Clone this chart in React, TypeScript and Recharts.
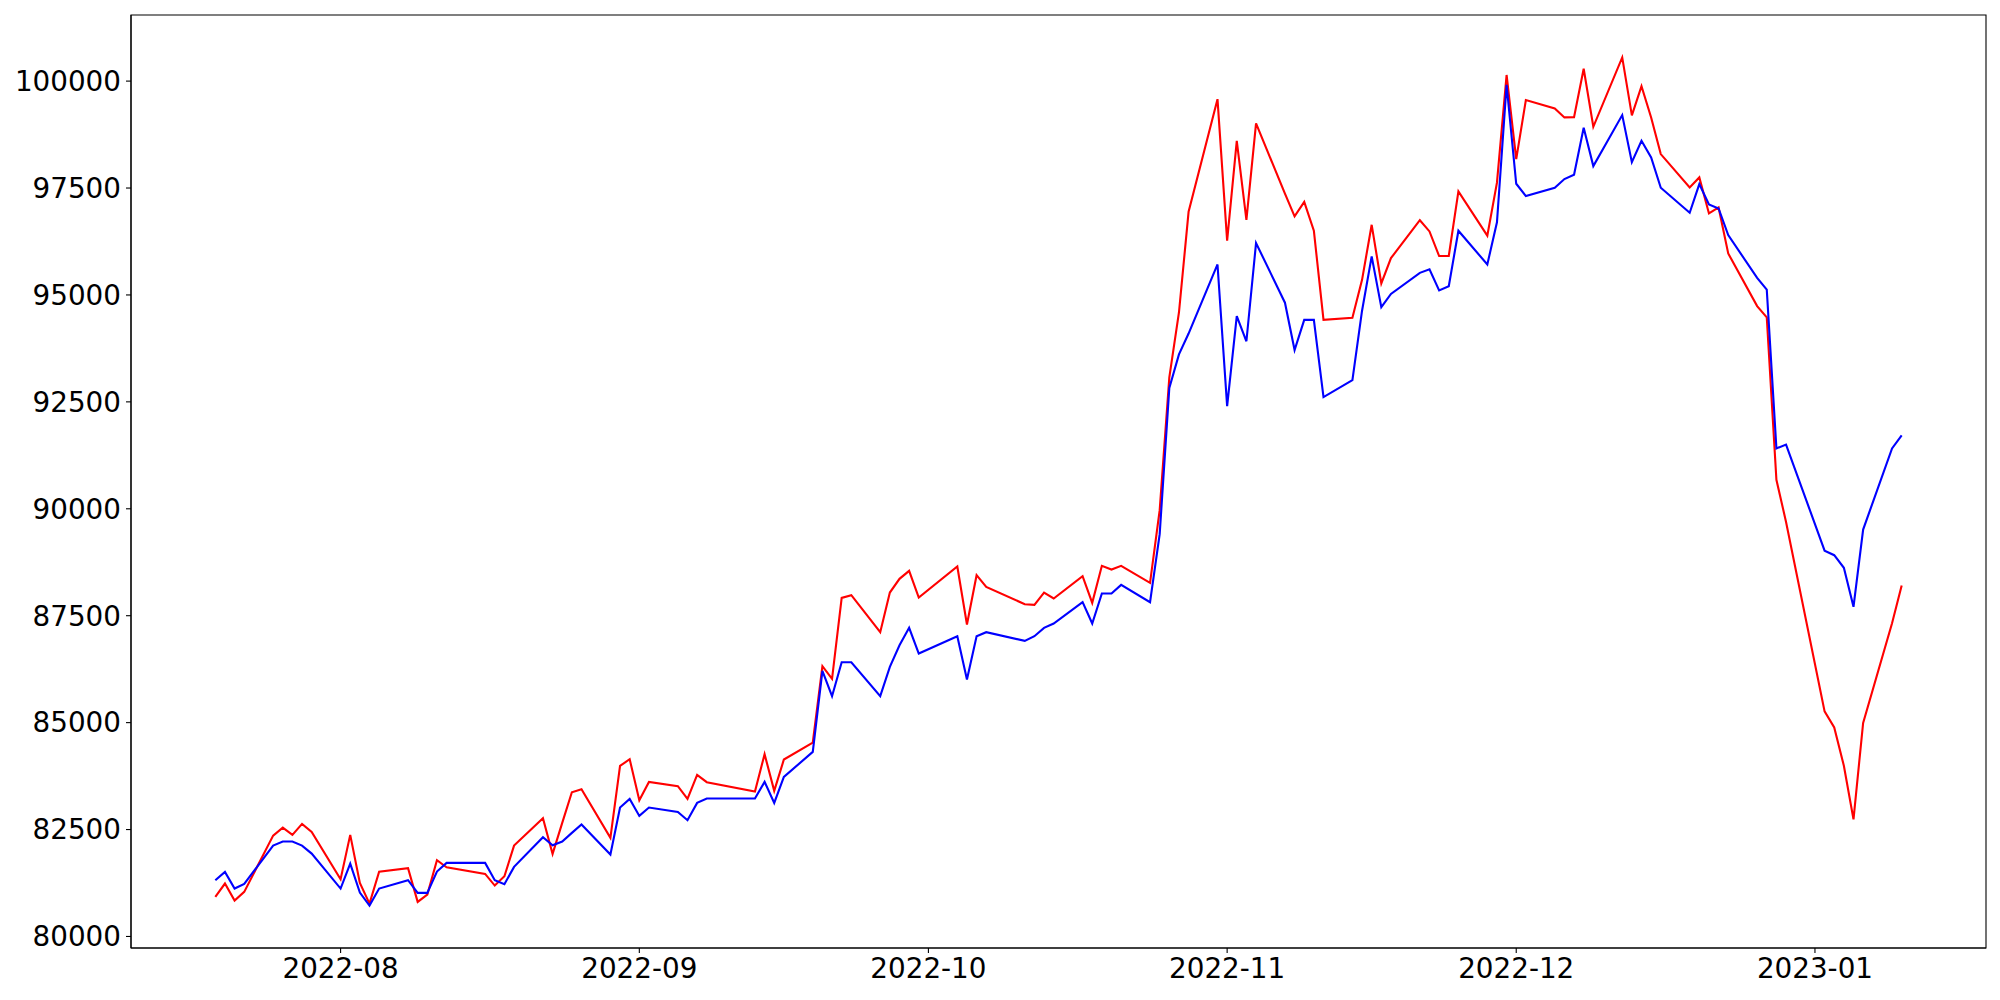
import { LineChart, Line, XAxis, YAxis, ReferenceArea } from "recharts"

// trading days, Jul 2022 - Jan 2023
const dates = [
    "2022-07-19", "2022-07-20", "2022-07-21", "2022-07-22", "2022-07-25", "2022-07-26", "2022-07-27", "2022-07-28", "2022-07-29",
    "2022-08-01", "2022-08-02", "2022-08-03", "2022-08-04", "2022-08-05", "2022-08-08", "2022-08-09", "2022-08-10", "2022-08-11", "2022-08-12",
    "2022-08-16", "2022-08-17", "2022-08-18", "2022-08-19", "2022-08-22", "2022-08-23", "2022-08-24", "2022-08-25", "2022-08-26",
    "2022-08-29", "2022-08-30", "2022-08-31",
    "2022-09-01", "2022-09-02", "2022-09-05", "2022-09-06", "2022-09-07", "2022-09-08", "2022-09-13", "2022-09-14", "2022-09-15", "2022-09-16",
    "2022-09-19", "2022-09-20", "2022-09-21", "2022-09-22", "2022-09-23", "2022-09-26", "2022-09-27", "2022-09-28", "2022-09-29", "2022-09-30",
    "2022-10-04", "2022-10-05", "2022-10-06", "2022-10-07", "2022-10-11", "2022-10-12", "2022-10-13", "2022-10-14",
    "2022-10-17", "2022-10-18", "2022-10-19", "2022-10-20", "2022-10-21", "2022-10-24", "2022-10-25", "2022-10-26", "2022-10-27", "2022-10-28",
    "2022-10-31",
    "2022-11-01", "2022-11-02", "2022-11-03", "2022-11-04", "2022-11-07", "2022-11-08", "2022-11-09", "2022-11-10", "2022-11-11",
    "2022-11-14", "2022-11-15", "2022-11-16", "2022-11-17", "2022-11-18", "2022-11-21", "2022-11-22", "2022-11-23", "2022-11-24", "2022-11-25",
    "2022-11-28", "2022-11-29", "2022-11-30",
    "2022-12-01", "2022-12-02", "2022-12-05", "2022-12-06", "2022-12-07", "2022-12-08", "2022-12-09", "2022-12-12", "2022-12-13", "2022-12-14",
    "2022-12-15", "2022-12-16", "2022-12-19", "2022-12-20", "2022-12-21", "2022-12-22", "2022-12-23", "2022-12-26", "2022-12-27", "2022-12-28",
    "2022-12-29",
    "2023-01-02", "2023-01-03", "2023-01-04", "2023-01-05", "2023-01-06", "2023-01-09", "2023-01-10",
]

const redValues = [
    80925, 81237, 80839, 81042, 82359, 82546, 82375, 82632, 82445,
    81338, 82375, 81252, 80769, 81517, 81595, 80808, 80980, 81782, 81619,
    81463, 81190, 81408, 82125, 82765, 81930, 82655, 83372, 83443,
    82305, 83988, 84144,
    83186, 83614, 83513, 83217, 83778, 83607, 83388, 84262, 83404, 84137,
    84534, 86319, 86023, 87917, 87980, 87115, 88042, 88362, 88549, 87925,
    88650, 87294, 88447, 88175, 87769, 87754, 88042, 87902,
    88424, 87800, 88666, 88580, 88666, 88268, 89967, 93072, 94590, 96944,
    99577,
    96271, 98601, 96755, 99011, 97370, 96837, 97174, 96501, 94417,
    94467, 95353, 96640, 95270, 95861, 96747, 96485, 95910, 95910, 97420,
    96386, 97625, 100143,
    98174, 99556, 99361, 99151, 99158, 100289, 98932, 100554, 99198, 99883,
    99151, 98293, 97514, 97748, 96906, 97046, 95970, 94739, 94474, 90678,
    89693,
    85263, 84888, 83992, 82739, 84995, 87322, 88208,
]

const blueValues = [
    81315, 81510, 81120, 81229, 82125, 82219, 82219, 82125, 81938,
    81120, 81705, 81027, 80722, 81120, 81315, 81019, 81019, 81518, 81720,
    81720, 81315, 81221, 81627, 82320, 82133, 82219, 82422, 82617,
    81915, 83014, 83217,
    82819, 83014, 82913, 82718, 83123, 83225, 83225, 83614, 83123, 83731,
    84316, 86210, 85618, 86413, 86413, 85618, 86304, 86810, 87216, 86616,
    87021, 86008, 87021, 87115, 86912, 87021, 87216, 87317,
    87816, 87317, 88019, 88019, 88221, 87816, 89406, 92828, 93610, 94097,
    95713,
    92399, 94507, 93917, 96214, 94819, 93712, 94417, 94417, 92613,
    93007, 94631, 95902, 94713, 95024, 95517, 95599, 95106, 95205, 96501,
    95713, 96698, 99915,
    97600, 97312, 97506, 97709, 97810, 98909, 98013, 99205, 98106, 98605,
    98215, 97506, 96921, 97592, 97116, 97023, 96399, 95400, 95124, 91412,
    91501,
    89022, 88915, 88620, 87707, 89515, 91412, 91716,
]

const monthTicks = ["2022-08-01", "2022-09-01", "2022-10-01", "2022-11-01", "2022-12-01", "2023-01-01"]
const yTicks = [80000, 82500, 85000, 87500, 90000, 92500, 95000, 97500, 100000]

const data = dates.map((d, i) => ({ t: Date.parse(d), red: redValues[i], blue: blueValues[i] }))

// matplotlib-style 5% margins
const tMin = data[0].t
const tMax = data[data.length - 1].t
const tPad = (tMax - tMin) * 0.05
const xDomain = [tMin - tPad, tMax + tPad]

const allValues = [...redValues, ...blueValues]
const vMin = Math.min(...allValues)
const vMax = Math.max(...allValues)
const vPad = (vMax - vMin) * 0.05
const yDomain = [vMin - vPad, vMax + vPad]

const font = { fontFamily: "DejaVu Sans", fontSize: 27.8, fill: "#000" }
const axisLine = { stroke: "#000", strokeWidth: 1.1 }

const fmtMonth = (t: number) => {
    const d = new Date(t)
    return `${d.getUTCFullYear()}-${String(d.getUTCMonth() + 1).padStart(2, "0")}`
}

export default function App() {
    return (
        <div style={{ position: "absolute", left: 0, top: 0, width: 2000, height: 1000, background: "#fff" }}>
            <LineChart width={2000} height={1000} data={data} margin={{ top: 15, right: 14, left: 0, bottom: 0 }}>
                <XAxis
                    dataKey="t"
                    type="number"
                    domain={xDomain}
                    allowDataOverflow
                    ticks={monthTicks.map(m => Date.parse(m))}
                    tickFormatter={fmtMonth}
                    height={52}
                    tick={font}
                    tickSize={5}
                    tickMargin={5}
                    tickLine={axisLine}
                    axisLine={axisLine}
                />
                <YAxis
                    type="number"
                    domain={yDomain}
                    allowDataOverflow
                    ticks={yTicks}
                    width={131}
                    tick={font}
                    tickSize={5}
                    tickMargin={5}
                    tickLine={axisLine}
                    axisLine={axisLine}
                />
                {/* frame: top and right spines */}
                <ReferenceArea x1={xDomain[0]} x2={xDomain[1]} y1={yDomain[0]} y2={yDomain[1]}
                    fill="none" stroke="#000" strokeWidth={1.1} ifOverflow="extendDomain" />
                <Line type="linear" dataKey="red" stroke="#ff0000" strokeWidth={2.1} dot={false} isAnimationActive={false} />
                <Line type="linear" dataKey="blue" stroke="#0000ff" strokeWidth={2.1} dot={false} isAnimationActive={false} />
            </LineChart>
        </div>
    )
}
